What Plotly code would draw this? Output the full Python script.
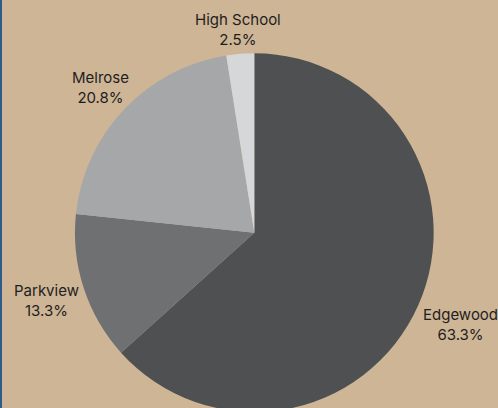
import math
import plotly.graph_objects as go

labels = ["Edgewood", "Parkview", "Melrose", "High School"]
values = [76, 16, 25, 3]
colors = ["#4F5052", "#6F7072", "#A6A7A9", "#D6D7D9"]

W, H = 498, 412
FONT = "Inter"
FS = 15
DOM_X = [0.0213, 1]
DOM_Y = [0, 1 - 53.3 / H]

fig = go.Figure(go.Pie(
    labels=labels,
    values=values,
    sort=False,
    direction="clockwise",
    rotation=0,
    marker=dict(colors=colors, line=dict(width=0)),
    textinfo="none",
    domain=dict(x=DOM_X, y=DOM_Y),
    showlegend=False,
    automargin=False,
    hoverinfo="label+percent",
))

# --- outside labels placed radially (like the reference) ---
EM = {"a": .56, "b": .6, "c": .53, "d": .6, "e": .57, "f": .35, "g": .6, "h": .6,
      "i": .25, "k": .52, "l": .25, "m": .9, "n": .6, "o": .6, "p": .6, "r": .37,
      "s": .5, "t": .36, "u": .6, "v": .52, "w": .78, "y": .52, " ": .27,
      ".": .27, "%": .8, "E": .58, "H": .72, "M": .88, "P": .6, "S": .6}


def text_w(s):
    return sum(EM.get(ch, .62) for ch in s) * FS


pw_x0, pw_x1 = DOM_X[0] * W, DOM_X[1] * W
py_top, py_bot = (1 - DOM_Y[1]) * H, (1 - DOM_Y[0]) * H
cx = (pw_x0 + pw_x1) / 2
cy = (py_top + py_bot) / 2
r = min(pw_x1 - pw_x0, py_bot - py_top) / 2

total = sum(values)
cum = 0
annotations = []
for lab, v in zip(labels, values):
    pct = v / total
    mid = (cum + v / 2) / total * 2 * math.pi
    cum += v
    ux, uy = math.sin(mid), -math.cos(mid)
    pct_txt = f"{pct * 100:.1f}%"
    hw = max(text_w(lab), text_w(pct_txt)) / 2
    hh = 18
    dx = hw / abs(ux) if abs(ux) > 1e-6 else 1e9
    dy = hh / abs(uy) if abs(uy) > 1e-6 else 1e9
    d = min(dx, dy) + 6
    px = cx + ux * (r + d)
    py = cy + uy * (r + d)
    annotations.append(dict(
        x=px / W, y=1 - py / H, xref="paper", yref="paper",
        text=f"{lab}<br>{pct_txt}", showarrow=False,
        xanchor="center", yanchor="middle", align="center",
        font=dict(family=FONT, size=FS, color="#1E1E1E"),
    ))

fig.update_layout(
    width=W, height=H,
    margin=dict(l=0, r=0, t=0, b=0, pad=0, autoexpand=False),
    showlegend=False,
    paper_bgcolor="#CEB596",
    plot_bgcolor="#CEB596",
    annotations=annotations,
    shapes=[dict(type="rect", xref="paper", yref="paper",
                 x0=0, x1=2 / W, y0=0, y1=1,
                 fillcolor="#2F5C8A", line=dict(width=0), layer="above")],
)

fig.write_html(
    "out.html",
    config={"displayModeBar": False},
    post_script="document.body.style.margin='0';document.body.style.overflow='hidden';document.documentElement.style.overflow='hidden';",
)
